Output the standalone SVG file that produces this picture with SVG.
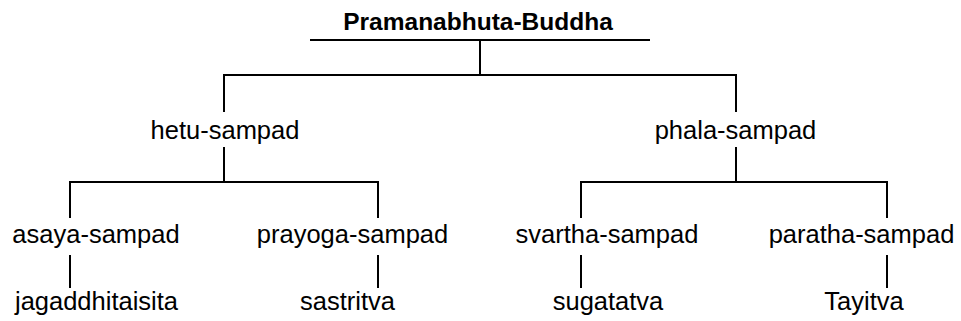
<svg xmlns="http://www.w3.org/2000/svg" width="961" height="321" viewBox="0 0 961 321">
<style>
.t{font-family:"Liberation Sans",Arial,sans-serif;font-size:25.5px;fill:#000;text-anchor:middle}
.b{font-weight:bold;font-size:24.5px}
.c line{stroke:#000;stroke-width:2;fill:none}
</style>
<rect width="961" height="321" fill="#fff"/>
<g id="connectors" class="c">
<line x1="310" y1="40" x2="650" y2="40"/>
<line x1="480" y1="40" x2="480" y2="75"/>
<line x1="223" y1="75" x2="737" y2="75"/>
<line x1="224" y1="75" x2="224" y2="112"/>
<line x1="736" y1="75" x2="736" y2="112"/>
<line x1="224" y1="147" x2="224" y2="182"/>
<line x1="69" y1="182" x2="379" y2="182"/>
<line x1="70" y1="182" x2="70" y2="218"/>
<line x1="378" y1="182" x2="378" y2="218"/>
<line x1="736" y1="147" x2="736" y2="182"/>
<line x1="580" y1="182" x2="888" y2="182"/>
<line x1="581" y1="182" x2="581" y2="218"/>
<line x1="887" y1="182" x2="887" y2="218"/>
<line x1="70" y1="255" x2="70" y2="288"/>
<line x1="378" y1="255" x2="378" y2="288"/>
<line x1="581" y1="255" x2="581" y2="288"/>
<line x1="887" y1="255" x2="887" y2="288"/>
</g>
<g id="root"><text class="t b" x="478" y="30">Pramanabhuta-Buddha</text></g>
<g id="hetu"><text class="t" x="225" y="139">hetu-sampad</text></g>
<g id="phala"><text class="t" x="735.5" y="139">phala-sampad</text></g>
<g id="asaya"><text class="t" x="96" y="243">asaya-sampad</text></g>
<g id="prayoga"><text class="t" x="352.5" y="243">prayoga-sampad</text></g>
<g id="svartha"><text class="t" x="607" y="243">svartha-sampad</text></g>
<g id="paratha"><text class="t" x="861.5" y="243">paratha-sampad</text></g>
<g id="jagaddhitaisita"><text class="t" x="96.5" y="310">jagaddhitaisita</text></g>
<g id="sastritva"><text class="t" x="347.5" y="310">sastritva</text></g>
<g id="sugatatva"><text class="t" x="608" y="310">sugatatva</text></g>
<g id="tayitva"><text class="t" x="864" y="310">Tayitva</text></g>
</svg>
